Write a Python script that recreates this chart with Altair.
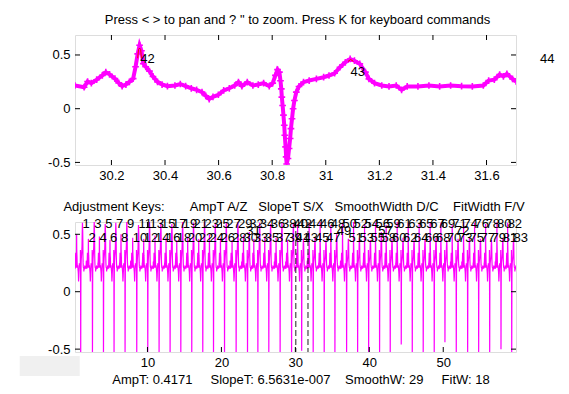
import altair as alt
import pandas as pd

FONT = "Liberation Sans"
MAG = "#ff00ff"

# ---------------- top panel: zoomed signal ----------------
top_x = [30.064, 30.098, 30.111, 30.125, 30.145, 30.166, 30.179, 30.193, 30.213, 30.227,
         30.240, 30.254, 30.267, 30.281, 30.290, 30.298, 30.305, 30.312, 30.319, 30.328,
         30.342, 30.355, 30.372, 30.389, 30.409, 30.437, 30.457, 30.477, 30.498, 30.518,
         30.538, 30.552, 30.565, 30.579, 30.599, 30.619, 30.640, 30.660, 30.674, 30.687,
         30.707, 30.728, 30.748, 30.768, 30.789, 30.802, 30.812, 30.820, 30.827, 30.831,
         30.834, 30.836, 30.839, 30.842, 30.845, 30.847, 30.850, 30.852, 30.854, 30.859,
         30.863, 30.867, 30.870, 30.874, 30.878, 30.883, 30.890, 30.900, 30.917, 30.938,
         30.965, 30.992, 31.012, 31.033, 31.053, 31.073, 31.091, 31.107, 31.127, 31.148,
         31.161, 31.182, 31.209, 31.236, 31.263, 31.283, 31.304, 31.344, 31.385, 31.425,
         31.466, 31.507, 31.547, 31.588, 31.608, 31.629, 31.649, 31.663, 31.676, 31.697,
         31.710]
top_y = [0.216, 0.200, 0.253, 0.238, 0.270, 0.310, 0.340, 0.320, 0.280, 0.240,
         0.210, 0.225, 0.250, 0.280, 0.390, 0.510, 0.590, 0.540, 0.420, 0.390,
         0.350, 0.300, 0.250, 0.225, 0.210, 0.216, 0.230, 0.210, 0.190, 0.176,
         0.154, 0.120, 0.090, 0.110, 0.130, 0.170, 0.190, 0.216, 0.247, 0.210,
         0.247, 0.216, 0.225, 0.238, 0.210, 0.238, 0.310, 0.364, 0.340, 0.260,
         0.185, 0.108, 0.030, -0.060, -0.154, -0.247, -0.355, -0.448, -0.515, -0.463,
         -0.370, -0.278, -0.185, -0.093, 0.000, 0.077, 0.154, 0.207, 0.247, 0.262,
         0.278, 0.293, 0.309, 0.330, 0.386, 0.432, 0.463, 0.447, 0.417, 0.340,
         0.278, 0.238, 0.216, 0.207, 0.216, 0.176, 0.207, 0.207, 0.216, 0.207,
         0.216, 0.210, 0.207, 0.216, 0.262, 0.270, 0.318, 0.300, 0.324, 0.278,
         0.253]

# red fitted-peak caps
fit42_x = [30.298, 30.301, 30.305, 30.309, 30.312]
fit42_y = [0.47, 0.55, 0.565, 0.55, 0.47]
fit43_x = [31.083, 31.093, 31.103]
fit43_y = [0.44, 0.458, 0.44]

top_label_text = ["42", "43", "44"]
top_label_x = [30.308, 31.092, 31.800]
top_label_y = [0.466, 0.345, 0.466]

top_xticks = [30.2, 30.4, 30.6, 30.8, 31.0, 31.2, 31.4, 31.6]
top_yticks = [-0.5, 0.0, 0.5]
top_xdom = [30.064, 31.71]
top_ydom = [-0.524, 0.686]

# ---------------- bottom panel: whole recording ----------------
qrs_ref = 30.854   # time of the QRS minimum in the zoomed panel
qrs_t = [0.97, 2.56, 4.05, 5.48, 6.97, 8.55, 10.04, 11.57, 13.06, 14.51,
         15.99, 17.48, 18.93, 20.42, 21.99, 23.53, 24.93, 26.41, 27.94, 29.49,
         30.854, 32.41, 33.90, 35.35, 36.93, 38.42, 39.91, 41.39, 42.83, 44.32,
         45.81, 47.29, 48.78, 50.23, 51.76, 53.30, 54.79, 56.28, 57.81, 59.26]
spike_h = [0.50, 0.46, 0.48, 0.45, 0.50, 0.47, 0.46, 0.49, 0.47, 0.45,
           0.48, 0.46, 0.50, 0.47, 0.45, 0.49, 0.46, 0.48, 0.47, 0.45,
           0.59, 0.60, 0.61, 0.58, 0.60, 0.61, 0.59, 0.60, 0.58, 0.61,
           0.60, 0.59, 0.61, 0.60, 0.58, 0.61, 0.60, 0.59, 0.61, 0.60]
t_h = [0.60, 0.61, 0.59, 0.60, 0.62, 0.58, 0.61, 0.60, 0.59, 0.61,
       0.60, 0.62, 0.59, 0.60, 0.61, 0.52, 0.60, 0.59, 0.61, 0.60,
       0.46, 0.47, 0.45, 0.50, 0.46, 0.47, 0.45, 0.52, 0.46, 0.47,
       0.45, 0.46, 0.47, 0.45, 0.46, 0.47, 0.46, 0.45, 0.47, 0.46]
qrs_min = [-0.53, -0.53, -0.53, -0.53, -0.53, -0.53, -0.53, -0.53, -0.53, -0.53,
           -0.53, -0.53, -0.53, -0.53, -0.53, -0.53, -0.53, -0.53, -0.53, -0.53,
           -0.515, -0.53, -0.53, -0.53, -0.53, -0.53, -0.53, -0.53, -0.53, -0.46,
           -0.53, -0.53, -0.53, -0.44, -0.53, -0.53, -0.53, -0.53, -0.50, -0.53]

peak_num = list(range(1, 84))
peak_x = [1.22, 2.01, 2.81, 3.50, 4.30, 4.93, 5.73, 6.42, 7.22, 8.00,
          8.80, 9.49, 10.29, 11.02, 11.82, 12.51, 13.31, 13.96, 14.76, 15.44,
          16.24, 16.93, 17.73, 18.38, 19.18, 19.87, 20.67, 21.44, 22.24, 22.98,
          23.35, 23.78, 24.38, 25.18, 25.86, 26.66, 27.39, 28.19, 28.94, 29.74,
          30.02, 30.30, 31.10, 31.86, 32.66, 33.35, 34.15, 34.80, 35.60, 36.38,
          37.18, 37.87, 38.67, 39.36, 40.16, 40.84, 41.20, 41.64, 42.28, 43.08,
          43.77, 44.57, 45.26, 46.06, 46.74, 47.54, 48.23, 49.03, 49.68, 50.48,
          51.21, 51.60, 52.01, 52.75, 53.55, 54.24, 55.04, 55.73, 56.53, 57.26,
          58.06, 58.71, 59.51]
U, L, M = 0.59, 0.468, 0.53
peak_y = [U, L, U, L, U, L, U, L, U, L,
          U, L, U, L, U, L, U, L, U, L,
          U, L, U, L, U, L, U, L, U, L,
          M, U, L, U, L, U, L, U, L, U,
          L, U, L, U, L, U, L, U, M, U,
          L, U, L, U, L, U, M, L, U, L,
          U, L, U, L, U, L, U, L, U, L,
          U, M, L, U, L, U, L, U, L, U,
          L, U, L]

bot_xticks = [10, 20, 30, 40, 50]
bot_yticks = [-0.5, 0.0, 0.5]
bot_xdom = [0.2, 59.84]
bot_ydom = [-0.525, 0.607]

title_top = 'Press < > to pan and ? " to zoom. Press K for keyboard commands'
NB = "\u00a0"
title_bot = ("Adjustment Keys:" + NB * 7 + "AmpT A/Z" + NB * 3 + "SlopeT S/X" + NB * 3
             + "SmoothWidth D/C" + NB * 4 + "FitWidth F/V")
status_line = ("AmpT: 0.4171" + NB * 5 + "SlopeT: 6.5631e-007" + NB * 4 + "SmoothW: 29"
               + NB * 5 + "FitW: 18")

W, H = 441, 130

# ---------------- build tables ----------------
top_df = pd.DataFrame({"x": top_x, "y": top_y})
fit_df = pd.DataFrame({"x": fit42_x + fit43_x, "y": fit42_y + fit43_y,
                       "g": ["a"] * len(fit42_x) + ["b"] * len(fit43_x)})
toplab_df = pd.DataFrame({"x": top_label_x, "y": top_label_y, "t": top_label_text})

rows = []
n = len(qrs_t)
for k, t in enumerate(qrs_t):
    lo = -0.8 if k == 0 else (qrs_t[k - 1] - t) / 2
    hi = 0.9 if k == n - 1 else (qrs_t[k + 1] - t) / 2
    fs = (spike_h[k] - 0.25) / (0.59 - 0.25)
    ft = (t_h[k] - 0.21) / (0.463 - 0.21)
    fq = (qrs_min[k] - 0.2) / (-0.515 - 0.2)
    for xv, yv in zip(top_x, top_y):
        off = xv - qrs_ref
        if not (lo <= off < hi):
            continue
        if -0.60 <= off <= -0.50 and yv > 0.25:
            yv = 0.25 + (yv - 0.25) * fs
        elif 0.03 <= off <= 0.33 and yv > 0.21:
            yv = 0.21 + (yv - 0.21) * ft
        elif -0.03 <= off <= 0.03 and yv < 0.2:
            yv = 0.2 + (yv - 0.2) * fq
        rows.append({"x": t + off, "y": yv})
bot_df = pd.DataFrame(rows)
botlab_df = pd.DataFrame({"x": peak_x, "y": peak_y, "t": [str(v) for v in peak_num]})
dash_df = pd.DataFrame({"x": top_xdom})


def ticks_layers(xs, ys, xt, yt):
    xd = pd.DataFrame({"x": xt})
    yd = pd.DataFrame({"y": yt})
    X = alt.X("x:Q", scale=xs)
    Y = alt.Y("y:Q", scale=ys)
    base_x = alt.Chart(xd).mark_rule(color="black", strokeWidth=1)
    base_y = alt.Chart(yd).mark_rule(color="black", strokeWidth=1)
    return [
        base_x.encode(x=X, y=alt.value(H), y2=alt.value(H - 5)),
        base_x.encode(x=X, y=alt.value(0), y2=alt.value(5)),
        base_y.encode(y=Y, x=alt.value(0), x2=alt.value(5)),
        base_y.encode(y=Y, x=alt.value(W), x2=alt.value(W - 5)),
    ]


def axis_x(vals):
    return alt.Axis(values=vals, ticks=False, domain=False, grid=False, labelFont=FONT,
                    labelFontSize=13, labelColor="black", labelPadding=4, title=None,
                    format="~g", labelFlush=False, labelOverlap=False)


def axis_y(vals):
    return alt.Axis(values=vals, ticks=False, domain=False, grid=False, labelFont=FONT,
                    labelFontSize=13, labelColor="black", labelPadding=5, title=None,
                    format="~g", labelOverlap=False)


# ---------------- top chart ----------------
xs_t = alt.Scale(domain=top_xdom, nice=False, zero=False)
ys_t = alt.Scale(domain=top_ydom, nice=False, zero=False)

top_line = alt.Chart(top_df).mark_line(color=MAG, strokeWidth=4, clip=True).encode(
    x=alt.X("x:Q", scale=xs_t, axis=axis_x(top_xticks)),
    y=alt.Y("y:Q", scale=ys_t, axis=axis_y(top_yticks)),
)
top_pts = alt.Chart(top_df).mark_point(
    shape="M-1,0H1M0,-1V1", filled=False, color=MAG, strokeWidth=1.6, size=45, clip=True, opacity=1
).encode(x=alt.X("x:Q", scale=xs_t), y=alt.Y("y:Q", scale=ys_t))
top_fit = alt.Chart(fit_df).mark_line(color="red", strokeWidth=1, clip=True).encode(
    x=alt.X("x:Q", scale=xs_t), y=alt.Y("y:Q", scale=ys_t), detail="g:N")
top_labs = alt.Chart(toplab_df).mark_text(
    font=FONT, fontSize=13, align="left", baseline="middle", color="black"
).encode(x=alt.X("x:Q", scale=xs_t), y=alt.Y("y:Q", scale=ys_t), text="t:N")
top_title = alt.Chart(pd.DataFrame({"t": [title_top]})).mark_text(
    font=FONT, fontSize=13, align="center", baseline="middle", color="black"
).encode(text="t:N", x=alt.value(W / 2 + 2), y=alt.value(-15))

top = alt.layer(top_line, top_pts, top_fit, top_labs, top_title,
                *ticks_layers(xs_t, ys_t, top_xticks, top_yticks)).properties(width=W, height=H)

# ---------------- bottom chart ----------------
xs_b = alt.Scale(domain=bot_xdom, nice=False, zero=False)
ys_b = alt.Scale(domain=bot_ydom, nice=False, zero=False)

bot_line = alt.Chart(bot_df).mark_line(color=MAG, strokeWidth=1.2, clip=True).encode(
    x=alt.X("x:Q", scale=xs_b, axis=axis_x(bot_xticks)),
    y=alt.Y("y:Q", scale=ys_b, axis=axis_y(bot_yticks)),
)
bot_dash = alt.Chart(dash_df).mark_rule(color="#222222", strokeWidth=1, strokeDash=[6, 3]).encode(
    x=alt.X("x:Q", scale=xs_b))
bot_labs = alt.Chart(botlab_df).mark_text(
    font=FONT, fontSize=13, align="left", baseline="middle", color="black"
).encode(x=alt.X("x:Q", scale=xs_b), y=alt.Y("y:Q", scale=ys_b), text="t:N")
bot_title = alt.Chart(pd.DataFrame({"t": [title_bot]})).mark_text(
    font=FONT, fontSize=13, align="center", baseline="middle", color="black"
).encode(text="t:N", x=alt.value(219), y=alt.value(-15))
bot_status = alt.Chart(pd.DataFrame({"t": [status_line]})).mark_text(
    font=FONT, fontSize=13, align="center", baseline="middle", color="black"
).encode(text="t:N", x=alt.value(226), y=alt.value(158))
gray_box = alt.Chart(pd.DataFrame({"a": [0]})).mark_rect(color="#f0f0f0").encode(
    x=alt.value(-55.3), x2=alt.value(4.7), y=alt.value(134), y2=alt.value(154))

bottom = alt.layer(bot_line, gray_box, bot_dash, bot_labs, bot_title, bot_status,
                   *ticks_layers(xs_b, ys_b, bot_xticks, bot_yticks)).properties(width=W, height=H)

chart = alt.vconcat(top, bottom, spacing=57, bounds="flush").properties(
    padding={"left": 11, "top": 5, "right": 4, "bottom": 0}
).configure_view(stroke="black", strokeWidth=1).configure_axis(
    grid=False, ticks=False, domain=False, title=None
).configure(
    background="white",
    locale={"number": {"decimal": ".", "thousands": ",", "grouping": [3],
                       "currency": ["$", ""], "minus": "-"}},
)

chart.save("out.html", embed_options={"renderer": "svg", "actions": False})
